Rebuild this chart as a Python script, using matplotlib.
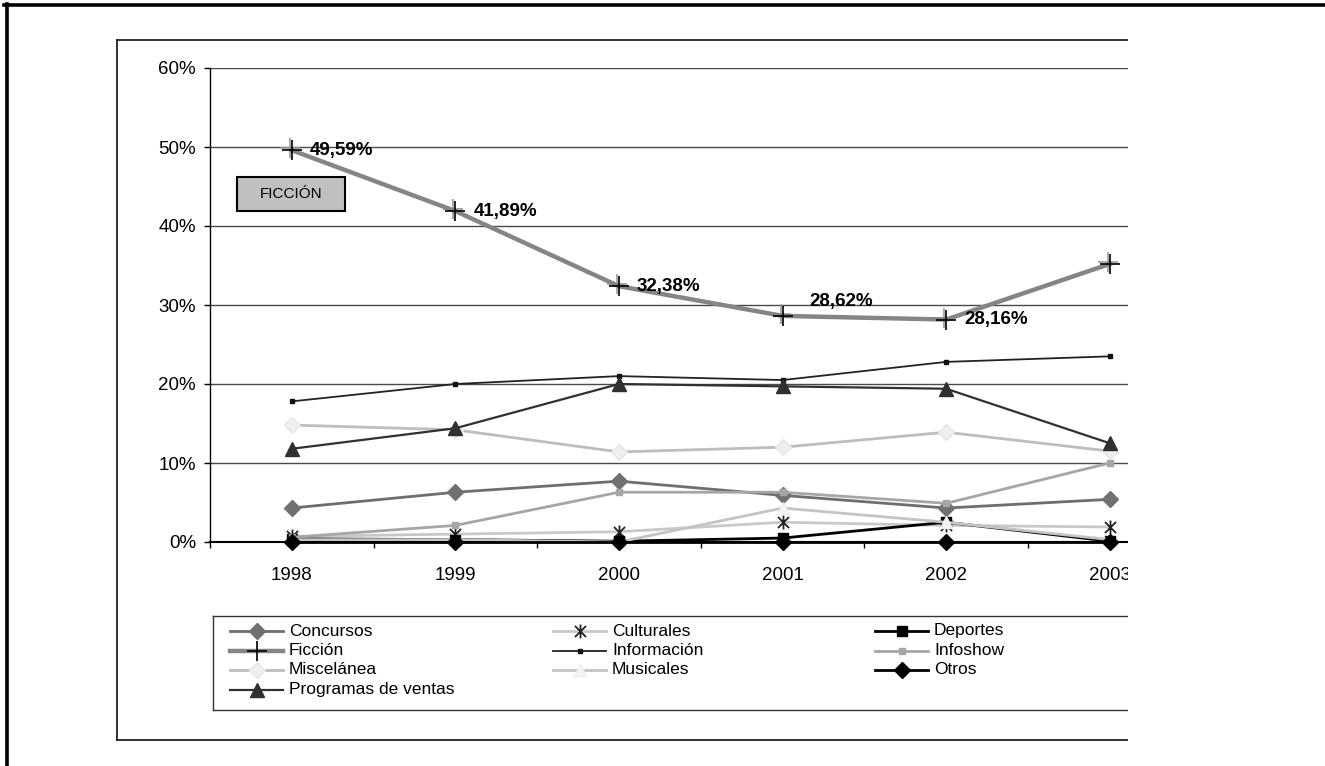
import matplotlib
matplotlib.use("Agg")
import matplotlib.pyplot as plt
from matplotlib.patches import Rectangle
from matplotlib.lines import Line2D
from matplotlib.path import Path
import matplotlib.transforms as mtransforms

plt.rcParams['font.family'] = ['Liberation Sans', 'DejaVu Sans']

# ---------------- data ----------------
years = ["1998", "1999", "2000", "2001", "2002", "2003"]
concursos = [4.3, 6.3, 7.7, 5.9, 4.3, 5.4]
culturales = [0.7, 1.0, 1.3, 2.5, 2.1, 1.9]
deportes = [0.4, 0.3, 0.1, 0.5, 2.5, 0.1]
ficcion = [49.59, 41.89, 32.38, 28.62, 28.16, 35.2]
informacion = [17.8, 20.0, 21.0, 20.5, 22.8, 23.5]
infoshow = [0.6, 2.1, 6.3, 6.3, 4.9, 10.0]
miscelanea = [14.8, 14.2, 11.4, 12.0, 13.9, 11.5]
musicales = [0.3, 0.3, 0.0, 4.3, 2.5, 0.3]
otros = [0.0, 0.0, 0.0, 0.0, 0.0, 0.0]
ventas = [11.8, 14.4, 20.0, 19.7, 19.4, 12.5]
ficcion_labels = ["49,59%", "41,89%", "32,38%", "28,62%", "28,16%", None]
y_ticks = [0, 10, 20, 30, 40, 50, 60]
y_tick_labels = ["0%", "10%", "20%", "30%", "40%", "50%", "60%"]

W, H = 1325, 766
fig = plt.figure(figsize=(W / 100, H / 100), dpi=100)
fig.patch.set_facecolor("white")

def fx(x):
    return x / W

def fy(y):
    return 1 - y / H

star = Path([(-1, -1), (1, 1), (-1, 1), (1, -1), (0, -1.25), (0, 1.25)],
            [Path.MOVETO, Path.LINETO, Path.MOVETO, Path.LINETO, Path.MOVETO, Path.LINETO])

series = [
    ("Concursos", concursos, dict(color="#6e6e6e", lw=2, marker="D", ms=8, mfc="#707070", mec="#707070")),
    ("Culturales", culturales, dict(color="#c8c8c8", lw=2, marker=star, ms=10, mfc="none", mec="#222222", mew=1.3)),
    ("Deportes", deportes, dict(color="#000000", lw=2, marker="s", ms=7, mfc="#000000", mec="#000000")),
    ("Ficción", ficcion, dict(color="#858585", lw=3.2, marker="+", ms=14, mec="#000000", mew=1.2)),
    ("Información", informacion, dict(color="#222222", lw=1.3, marker="s", ms=3.5, mfc="#111111", mec="#111111")),
    ("Infoshow", infoshow, dict(color="#a6a6a6", lw=2, marker="s", ms=5, mfc="#a6a6a6", mec="#a6a6a6")),
    ("Miscelánea", miscelanea, dict(color="#bdbdbd", lw=2, marker="D", ms=8, mfc="#efefef", mec="#e6e6e6")),
    ("Musicales", musicales, dict(color="#c4c4c4", lw=2, marker="^", ms=9, mfc="#f4f4f4", mec="#eeeeee")),
    ("Otros", otros, dict(color="#000000", lw=2, marker="D", ms=8, mfc="#000000", mec="#000000")),
    ("Programas de ventas", ventas, dict(color="#303030", lw=1.6, marker="^", ms=10, mfc="#303030", mec="#303030")),
]

# ---------------- axes ----------------
ax = fig.add_axes([fx(210), fy(542), (1128 - 210) / W, (542 - 68) / H])
xs = list(range(len(years)))
ax.set_xlim(-0.5, -0.5 + (1128 - 210) / 163.6)
ax.set_ylim(0, 60)

for y in y_ticks[1:]:
    ax.axhline(y, color="#4a4a4a", lw=1.0, zorder=1)

for name, vals, st in series:
    ax.plot(xs, vals, zorder=3, clip_on=False, **st)
    if name == "Ficción":
        off = mtransforms.ScaledTranslation(-2 / 100, 2 / 100, fig.dpi_scale_trans)
        ax.plot(xs, vals, linestyle="none", marker="+", ms=14, mec="#9a9a9a", mew=1.2,
                transform=ax.transData + off, zorder=2.9, clip_on=False)

# data labels for Ficción
for i, (v, lab) in enumerate(zip(ficcion, ficcion_labels)):
    if lab is None:
        continue
    dx, dy = (18, 0) if lab != "28,62%" else (27, 14)
    ax.annotate(lab, (xs[i], v), xytext=(dx * 0.72, dy * 0.72), textcoords="offset points",
                ha="left", va="center", fontsize=13.5, fontweight="bold", color="#000000", zorder=5)

for s in ["top", "right"]:
    ax.spines[s].set_visible(False)
ax.spines["left"].set_color("#000000")
ax.spines["left"].set_linewidth(1.0)
ax.spines["bottom"].set_color("#000000")
ax.spines["bottom"].set_linewidth(1.5)

ax.set_yticks(y_ticks)
ax.set_yticklabels(y_tick_labels, fontsize=13.5)
ax.tick_params(axis="y", direction="out", length=4, width=1, pad=6)

ax.set_xticks([b - 0.5 for b in range(len(years))])
ax.set_xticklabels([])
ax.tick_params(axis="x", which="major", direction="out", length=4.5, width=1)
ax.set_xticks(xs, minor=True)
ax.set_xticklabels(years, minor=True, fontsize=13.5)
ax.tick_params(axis="x", which="minor", length=0, pad=18)

# ---------------- FICCIÓN box ----------------
fig.patches.append(Rectangle((fx(237), fy(211)), (345 - 237) / W, (211 - 177) / H,
                             transform=fig.transFigure, facecolor="#c0c0c0",
                             edgecolor="#000000", lw=1.5, zorder=6))
fig.text(fx(291), fy(194), "FICCIÓN", ha="center", va="center", fontsize=11, zorder=7)

# ---------------- legend (manual) ----------------
col_x = [230, 553, 875]
row_y = [631, 650.5, 670, 689.5]
for i, (name, vals, st) in enumerate(series):
    r, c = i // 3, i % 3
    if i == 9:
        r, c = 3, 0
    x0 = col_x[c]
    yy = fy(row_y[r])
    st2 = dict(st)
    ln = Line2D([fx(x0), fx(x0 + 53)], [yy, yy], transform=fig.transFigure, zorder=3,
                color=st2.pop("color"), lw=st2.pop("lw"))
    fig.lines.append(ln)
    mk = Line2D([fx(x0 + 26.5)], [yy], transform=fig.transFigure, zorder=3.5,
                linestyle="none", **st2)
    fig.lines.append(mk)
    fig.text(fx(x0 + 59), yy, name, ha="left", va="center", fontsize=12.5, zorder=4)

# legend frame (left, top, bottom)
for xs_, ys_ in [([213, 213], [616, 710]), ([213, 1128], [616, 616]), ([213, 1128], [710, 710])]:
    fig.lines.append(Line2D([fx(v) for v in xs_], [fy(v) for v in ys_], transform=fig.transFigure,
                            color="#333333", lw=1.0, zorder=2))

# inner frame
for xs_, ys_ in [([117, 117], [40, 740]), ([117, 1128], [40, 40]), ([117, 1128], [740, 740])]:
    fig.lines.append(Line2D([fx(v) for v in xs_], [fy(v) for v in ys_], transform=fig.transFigure,
                            color="#111111", lw=1.2, zorder=2))

# white mask for clipped right side
fig.patches.append(Rectangle((fx(1128), fy(760)), (W - 1128) / W, (760 - 25) / H,
                             transform=fig.transFigure, facecolor="white", edgecolor="none", zorder=20))

# outer frame (top and left)
fig.lines.append(Line2D([fx(4), fx(W)], [fy(5), fy(5)], transform=fig.transFigure,
                        color="#000000", lw=2.6, zorder=21))
fig.lines.append(Line2D([fx(7), fx(7)], [fy(4), fy(H + 2)], transform=fig.transFigure,
                        color="#000000", lw=2.6, zorder=21))

fig.savefig("out.png", dpi=100, facecolor="white")
